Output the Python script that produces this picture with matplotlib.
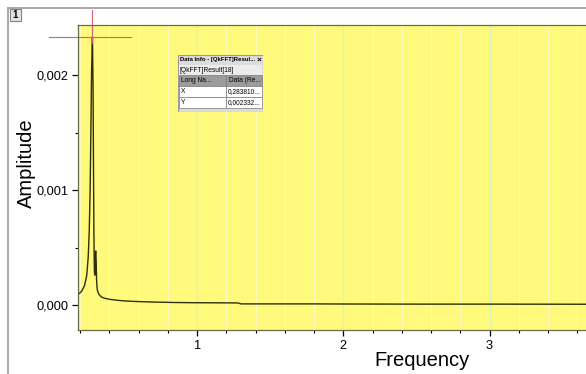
import matplotlib
matplotlib.use("Agg")
import matplotlib.pyplot as plt
from matplotlib.patches import Rectangle
from matplotlib.ticker import MultipleLocator, FuncFormatter

plt.rcParams['font.family'] = ['Liberation Sans', 'DejaVu Sans']

# FFT amplitude spectrum
freq = [0.185, 0.21, 0.23, 0.245, 0.255, 0.262, 0.268, 0.273, 0.278, 0.2838,
        0.288, 0.291, 0.294, 0.297, 0.300, 0.303, 0.306, 0.309, 0.312, 0.316,
        0.322, 0.33, 0.345, 0.37, 0.40, 0.45, 0.5, 0.6, 0.7, 0.85,
        1.0, 1.2, 1.28, 1.30, 1.5, 1.8, 2.0, 2.5, 3.0, 3.66]
amp = [0.00009, 0.00012, 0.00017, 0.00026, 0.00042, 0.00065, 0.00100, 0.00150, 0.00205, 0.002332,
       0.00190, 0.00120, 0.00060, 0.00030, 0.00026, 0.00042, 0.00047, 0.00040, 0.00022, 0.00014,
       0.00011, 0.00009, 0.00007, 0.000058, 0.00005, 0.000042, 0.000036, 0.00003, 0.000026, 0.000022,
       0.00002, 0.000019, 0.000018, 0.00001, 0.00001, 0.00001, 0.000009, 0.000008, 0.000008, 0.000007]

peak_x = 0.2838
peak_y = 0.002332
info_rows = [("Long Na...", "Data (Re..."), ("X", "0,283810..."), ("Y", "0,002332...")]

W, H = 586, 374
fig = plt.figure(figsize=(W / 100, H / 100), dpi=100)
fig.patch.set_facecolor('white')

# outer layer frame and layer "1" marker
fig.add_artist(plt.Line2D([8 / W, 8 / W], [0, 1 - 8 / H], color='#9a9a9a', lw=1.2))
fig.add_artist(plt.Line2D([8 / W, 1], [1 - 8 / H, 1 - 8 / H], color='#9a9a9a', lw=1.2))
fig.add_artist(Rectangle((10 / W, 1 - 21 / H), 11 / W, 12 / H, transform=fig.transFigure,
                         facecolor='#e4e4e4', edgecolor='#808080', lw=0.8))
fig.text(15.5 / W, 1 - 15 / H, "1", ha='center', va='center', fontsize=7, fontweight='bold')

ax = fig.add_axes([78 / W, 1 - 330 / H, 1 - 78 / W, 305 / H])
ax.set_facecolor('#fffa7c')
ax.set_xlim(0.185, 3.66)
ax.set_ylim(-0.000217, 0.002435)

# vertical grid lines
for g in [0.2 * k for k in range(1, 19)]:
    if abs(g - round(g)) < 1e-6:
        ax.axvline(g, color='#daf2bc', lw=1.0, zorder=0.5)
    else:
        ax.axvline(g, color='#fffcc0', lw=0.8, zorder=0.5)

ax.plot(freq, amp, color='#2f2e08', lw=1.0)

ax.xaxis.set_major_locator(MultipleLocator(1))
ax.xaxis.set_minor_locator(MultipleLocator(0.2))
ax.yaxis.set_major_locator(MultipleLocator(0.001))
ax.yaxis.set_minor_locator(MultipleLocator(0.0005))
ax.yaxis.set_major_formatter(FuncFormatter(lambda v, p: f"{v:.3f}".replace('.', ',')))
ax.xaxis.set_major_formatter(FuncFormatter(lambda v, p: f"{v:.0f}"))
ax.tick_params(which='major', direction='out', length=4, width=0.9, labelsize=9.2, pad=3)
ax.tick_params(which='minor', direction='out', length=2.5, width=0.8)

for s in ['left', 'bottom', 'top']:
    ax.spines[s].set_color('#6b6b4a')
    ax.spines[s].set_linewidth(0.9)
ax.spines['right'].set_visible(False)

ax.set_xlabel("Frequency", fontsize=14.5, va='top')
ax.xaxis.set_label_coords((422 - 78) / 508, -0.068)
ax.set_ylabel("Amplitude", fontsize=14.5, va='center')
ax.yaxis.set_label_coords((26 - 78) / 508, (330 - 163) / 305)

# data cursor cross-hair
ax.plot([peak_x, peak_x], [0.002278, 0.002565], color='#d0607a', lw=0.8, clip_on=False)
ax.plot([-0.01, 0.55], [peak_y, peak_y], color='#d0607a', lw=0.8, clip_on=False)

# Data Info window
box = fig.add_axes([178 / W, 1 - 112 / H, 85 / W, 57 / H])
box.set_xlim(0, 85)
box.set_ylim(57, 0)
box.axis('off')
box.add_patch(Rectangle((0, 0), 85, 57, facecolor='#dcdcdc', edgecolor='#9a9a9a', lw=0.8))
box.text(2, 5, "Data Info - [QkFFT]Resul...", fontsize=4.3, fontweight='bold', va='center')
box.text(81, 5, "×", fontsize=6, fontweight='bold', va='center', ha='center')
box.add_patch(Rectangle((1, 10), 83, 10, facecolor='#ececec', edgecolor='none'))
box.text(2, 15.5, "[QkFFT]Result[18]", fontsize=4.8, va='center')
row_y = [20, 31, 42]
for (c1, c2), y0 in zip(info_rows, row_y):
    fc = '#9c9c9c' if y0 == 20 else 'white'
    box.add_patch(Rectangle((1, y0), 47, 11, facecolor=fc, edgecolor='#7a7a7a', lw=0.5))
    box.add_patch(Rectangle((48, y0), 36, 11, facecolor=fc, edgecolor='#7a7a7a', lw=0.5))
    box.text(3, y0 + 5.7, c1, fontsize=4.8, va='center')
    box.text(83, y0 + 5.7, c2, fontsize=4.8, va='center', ha='right')

fig.savefig("out.png", dpi=100)
